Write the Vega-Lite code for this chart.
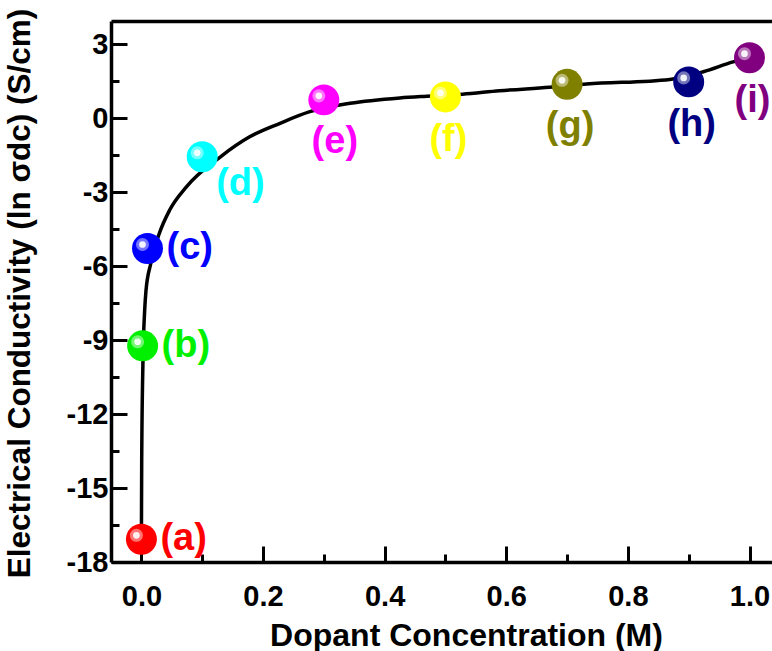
{
  "$schema": "https://vega.github.io/schema/vega-lite/v6.json",
  "width": 661,
  "height": 541,
  "autosize": {"type": "none"},
  "padding": {"left": 111, "top": 21, "right": 0, "bottom": 89},
  "background": "white",
  "config": {
    "view": {"stroke": null},
    "axis": {
      "grid": false,
      "labelFont": "Liberation Sans",
      "labelFontWeight": "bold",
      "labelFontSize": 29,
      "labelColor": "black",
      "titleFont": "Liberation Sans",
      "titleFontWeight": "bold",
      "titleColor": "black",
      "domainColor": "black",
      "domainWidth": 3.5,
      "tickColor": "black",
      "tickWidth": 3
    },
    "text": {"font": "Liberation Sans", "fontWeight": "bold", "fontSize": 38}
  },
  "datasets": {
    "pts": [
      {"conc": 0.0, "lnsig": -17.08, "label": "(a)"},
      {"conc": 0.002, "lnsig": -9.23, "label": "(b)"},
      {"conc": 0.01, "lnsig": -5.28, "label": "(c)"},
      {"conc": 0.1, "lnsig": -1.56, "label": "(d)"},
      {"conc": 0.3, "lnsig": 0.75, "label": "(e)"},
      {"conc": 0.5, "lnsig": 0.87, "label": "(f)"},
      {"conc": 0.7, "lnsig": 1.38, "label": "(g)"},
      {"conc": 0.9, "lnsig": 1.48, "label": "(h)"},
      {"conc": 1.0, "lnsig": 2.46, "label": "(i)"}
    ],
    "curve": [
      {"conc": 0.0, "lnsig": -17.08},
      {"conc": 0.0005, "lnsig": -13.86},
      {"conc": 0.0026, "lnsig": -9.81},
      {"conc": 0.0054, "lnsig": -7.78},
      {"conc": 0.0075, "lnsig": -7.0},
      {"conc": 0.0153, "lnsig": -5.9},
      {"conc": 0.029, "lnsig": -4.7},
      {"conc": 0.0465, "lnsig": -3.72},
      {"conc": 0.074, "lnsig": -2.78},
      {"conc": 0.13, "lnsig": -1.56},
      {"conc": 0.178, "lnsig": -0.75},
      {"conc": 0.228, "lnsig": -0.2},
      {"conc": 0.277, "lnsig": 0.27},
      {"conc": 0.343, "lnsig": 0.61},
      {"conc": 0.425, "lnsig": 0.83},
      {"conc": 0.469, "lnsig": 0.9},
      {"conc": 0.528, "lnsig": 0.98},
      {"conc": 0.589, "lnsig": 1.12},
      {"conc": 0.671, "lnsig": 1.26},
      {"conc": 0.732, "lnsig": 1.39},
      {"conc": 0.869, "lnsig": 1.58},
      {"conc": 0.924, "lnsig": 1.89},
      {"conc": 0.973, "lnsig": 2.29},
      {"conc": 1.0, "lnsig": 2.46}
    ]
  },
  "resolve": {"axis": {"x": "independent", "y": "independent"}},
  "layer": [
    {
      "data": {"name": "curve"},
      "mark": {"type": "line", "color": "black", "strokeWidth": 3.5, "interpolate": "monotone"},
      "encoding": {
        "x": {"field": "conc", "type": "quantitative",
          "scale": {"domain": [-0.05, 1.037], "nice": false, "zero": false},
          "axis": {"orient": "bottom", "values": [0, 0.2, 0.4, 0.6, 0.8, 1.0], "format": ".1f",
            "tickSize": -16, "labelPadding": 36, "title": "Dopant Concentration (M)",
            "titleFontSize": 32, "titleX": 355, "titleY": 83, "titleAlign": "center", "titleBaseline": "alphabetic"}},
        "y": {"field": "lnsig", "type": "quantitative",
          "scale": {"domain": [-18, 3.95], "nice": false, "zero": false},
          "axis": {"orient": "left", "values": [-18, -15, -12, -9, -6, -3, 0, 3],
            "labelExpr": "replace(datum.label, '−', '-')",
            "tickSize": -16, "labelPadding": 19, "title": "Electrical Conductivity (ln σdc) (S/cm)",
            "titleFontSize": 31.5, "titleAngle": -90, "titleX": -82, "titleY": 272, "titleAlign": "center", "titleBaseline": "alphabetic"}}
      }
    },
    {
      "data": {"name": "curve"},
      "mark": {"type": "line", "opacity": 0},
      "encoding": {
        "x": {"field": "conc", "type": "quantitative",
          "axis": {"orient": "bottom", "values": [0.1, 0.3, 0.5, 0.7, 0.9], "labels": false, "domain": false, "tickSize": -8, "title": null}},
        "y": {"field": "lnsig", "type": "quantitative",
          "axis": {"orient": "left", "values": [-16.5, -13.5, -10.5, -7.5, -4.5, -1.5, 1.5], "labels": false, "domain": false, "tickSize": -8, "title": null}}
      }
    },
    {
      "data": {"name": "curve"},
      "mark": {"type": "line", "opacity": 0},
      "encoding": {
        "x": {"field": "conc", "type": "quantitative",
          "axis": {"orient": "top", "ticks": false, "labels": false, "title": null}},
        "y": {"field": "lnsig", "type": "quantitative", "axis": null}
      }
    },
    {
      "data": {"name": "pts"},
      "mark": {"type": "circle", "size": 960, "opacity": 1},
      "encoding": {
        "x": {"field": "conc", "type": "quantitative", "axis": null},
        "y": {"field": "lnsig", "type": "quantitative", "axis": null},
        "color": {"field": "label", "type": "nominal", "legend": null,
          "scale": {"domain": ["(a)", "(b)", "(c)", "(d)", "(e)", "(f)", "(g)", "(h)", "(i)"],
            "range": ["#FF0000", "#00F000", "#0000FF", "#00FFFF", "#FF00FF", "#FFFF00", "#808000", "#000080", "#800080"]}}
      }
    },
    {
      "data": {"name": "pts"},
      "mark": {"type": "circle", "size": 170, "color": "white", "opacity": 0.45, "xOffset": -5, "yOffset": -4},
      "encoding": {
        "x": {"field": "conc", "type": "quantitative", "axis": null},
        "y": {"field": "lnsig", "type": "quantitative", "axis": null}
      }
    },
    {
      "data": {"name": "pts"},
      "mark": {"type": "circle", "size": 45, "color": "white", "opacity": 0.9, "xOffset": -5, "yOffset": -4},
      "encoding": {
        "x": {"field": "conc", "type": "quantitative", "axis": null},
        "y": {"field": "lnsig", "type": "quantitative", "axis": null}
      }
    },
    {
      "data": {"name": "pts"},
      "transform": [{"filter": "indexof(['(a)','(b)','(c)'], datum.label) >= 0"}],
      "mark": {"type": "text", "align": "left", "baseline": "middle", "dx": 19, "dy": 0},
      "encoding": {
        "x": {"field": "conc", "type": "quantitative", "axis": null},
        "y": {"field": "lnsig", "type": "quantitative", "axis": null},
        "text": {"field": "label"},
        "color": {"field": "label", "type": "nominal", "legend": null}
      }
    },
    {
      "data": {"name": "pts"},
      "transform": [{"filter": "datum.label == '(d)'"}],
      "mark": {"type": "text", "align": "left", "baseline": "middle", "dx": 14, "dy": 27},
      "encoding": {
        "x": {"field": "conc", "type": "quantitative", "axis": null},
        "y": {"field": "lnsig", "type": "quantitative", "axis": null},
        "text": {"field": "label"},
        "color": {"field": "label", "type": "nominal", "legend": null}
      }
    },
    {
      "data": {"name": "pts"},
      "transform": [{"filter": "datum.label == '(e)'"}],
      "mark": {"type": "text", "align": "center", "baseline": "middle", "dx": 11, "dy": 42},
      "encoding": {
        "x": {"field": "conc", "type": "quantitative", "axis": null},
        "y": {"field": "lnsig", "type": "quantitative", "axis": null},
        "text": {"field": "label"},
        "color": {"field": "label", "type": "nominal", "legend": null}
      }
    },
    {
      "data": {"name": "pts"},
      "transform": [{"filter": "indexof(['(f)','(g)','(h)','(i)'], datum.label) >= 0"}],
      "mark": {"type": "text", "align": "center", "baseline": "middle", "dx": 3, "dy": 43},
      "encoding": {
        "x": {"field": "conc", "type": "quantitative", "axis": null},
        "y": {"field": "lnsig", "type": "quantitative", "axis": null},
        "text": {"field": "label"},
        "color": {"field": "label", "type": "nominal", "legend": null}
      }
    }
  ]
}
